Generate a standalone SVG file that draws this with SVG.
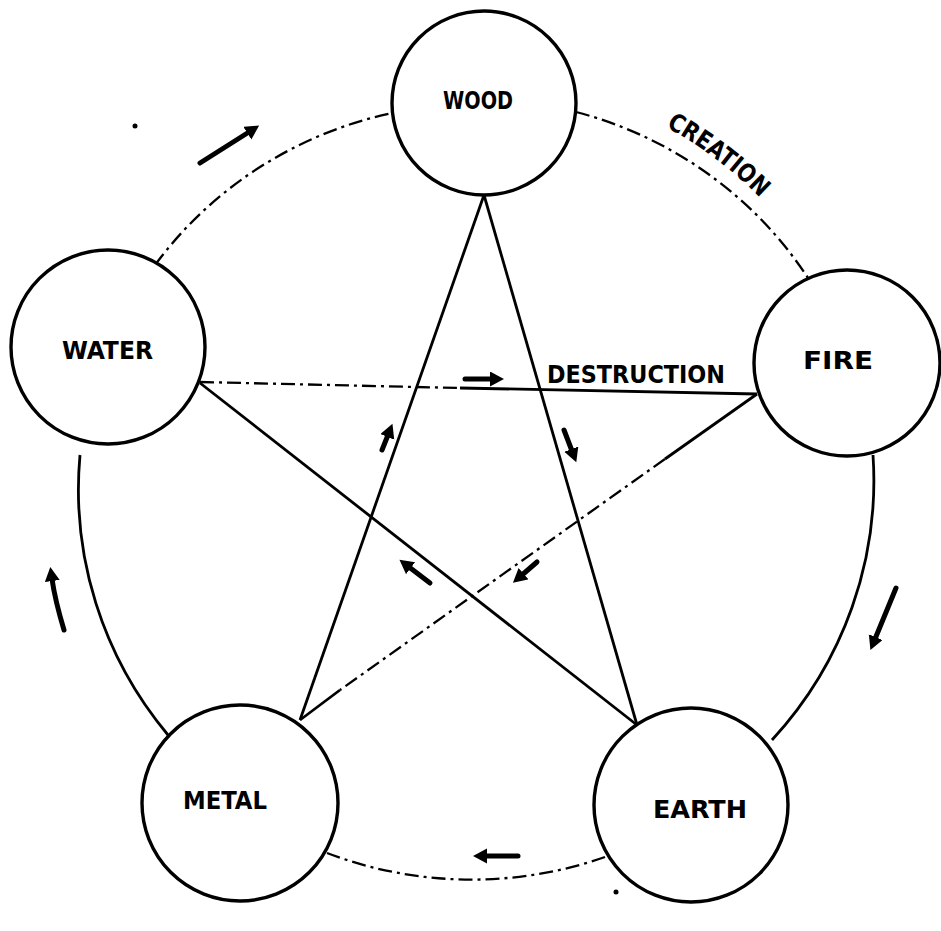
<svg xmlns="http://www.w3.org/2000/svg" width="941" height="931" viewBox="0 0 941 931">
<style>
  .bg { fill: #ffffff; }
  .node circle { fill: #ffffff; stroke: #000; stroke-width: 3.4; }
  .lbl { font-family: "DejaVu Sans Condensed", "DejaVu Sans", "Liberation Sans", sans-serif; font-weight: bold; font-size: 25px; fill: #000; }
  .solid { fill: none; stroke: #000; stroke-width: 2.8; }
  .dashdot { fill: none; stroke: #000; stroke-width: 2.3; stroke-dasharray: 14 5 3 5; }
  .arrow { fill: none; stroke: #000; stroke-width: 5; stroke-linecap: round; marker-end: url(#head); }
  .dot { fill: #000; }
</style>
<defs>
  <marker id="head" markerUnits="userSpaceOnUse" markerWidth="16" markerHeight="16" refX="2" refY="7.5" orient="auto">
    <path d="M0,0 L14,7.5 L0,15 z" fill="#000"/>
  </marker>
</defs>
<rect class="bg" x="0" y="0" width="941" height="931"/>

<g id="connectors">
  <!-- creation cycle (outer circle) -->
  <path class="dashdot" d="M 155 265 A 397 388 0 0 1 392 113"/>
  <path class="dashdot" d="M 576 112 A 397 388 0 0 1 808 278"/>
  <path class="solid" d="M 873 455 A 397 388 0 0 1 772 740"/>
  <path class="dashdot" d="M 605 857 A 397 388 0 0 1 327 853"/>
  <path class="solid" d="M 168 735 A 397 388 0 0 1 80 455"/>

  <!-- destruction star -->
  <path class="dashdot" d="M 200 382 L 460 388"/>
  <path class="solid" d="M 460 388 L 757 394"/>
  <path class="solid" d="M 757 394 L 665 459"/>
  <path class="dashdot" d="M 665 459 L 340 690"/>
  <path class="solid" d="M 340 690 L 300 720"/>
  <path class="solid" d="M 300 720 L 484 195"/>
  <path class="solid" d="M 484 195 L 637 725"/>
  <path class="solid" d="M 637 725 L 200 383"/>

  <!-- direction arrows -->
  <line class="arrow" x1="465" y1="379" x2="492" y2="379"/>
  <line class="arrow" x1="382" y1="450" x2="388" y2="435"/>
  <line class="arrow" x1="564" y1="430" x2="572" y2="451"/>
  <line class="arrow" x1="430" y1="583" x2="409" y2="567"/>
  <line class="arrow" x1="537" y1="562" x2="522" y2="575"/>
  <line class="arrow" x1="896" y1="588" x2="875" y2="639"/>
  <path class="arrow" d="M 64 630 Q 55 600 52 579"/>
  <line class="arrow" x1="200" y1="163" x2="249" y2="132"/>
  <line class="arrow" x1="518" y1="856" x2="485" y2="856"/>

  <!-- labels of the cycles -->
  <path id="crepath" d="M 666 127 A 400 400 0 0 1 790 232" fill="none"/>
  <text class="lbl" font-size="22"><textPath href="#crepath" textLength="118" lengthAdjust="spacingAndGlyphs">CREATION</textPath></text>
  <text class="lbl" x="547" y="383" textLength="178" lengthAdjust="spacingAndGlyphs" font-size="27">DESTRUCTION</text>
</g>

<g id="wood" class="node">
  <circle cx="484" cy="103" r="92"/>
  <text class="lbl" x="443" y="109" textLength="70" lengthAdjust="spacingAndGlyphs">WOOD</text>
</g>
<g id="water" class="node">
  <circle cx="108" cy="347" r="97"/>
  <text class="lbl" x="62" y="359" textLength="91" lengthAdjust="spacingAndGlyphs">WATER</text>
</g>
<g id="fire" class="node">
  <circle cx="847" cy="363" r="93"/>
  <text class="lbl" x="803" y="369" textLength="70" lengthAdjust="spacingAndGlyphs">FIRE</text>
</g>
<g id="metal" class="node">
  <circle cx="240" cy="803" r="98"/>
  <text class="lbl" x="183" y="809" textLength="84" lengthAdjust="spacingAndGlyphs" font-size="27">METAL</text>
</g>
<g id="earth" class="node">
  <circle cx="691" cy="805" r="97"/>
  <text class="lbl" x="653" y="818" textLength="94" lengthAdjust="spacingAndGlyphs" font-size="28">EARTH</text>
</g>

<circle class="dot" cx="135" cy="126" r="2.5"/>
<circle class="dot" cx="616" cy="892" r="2.5"/>
</svg>
